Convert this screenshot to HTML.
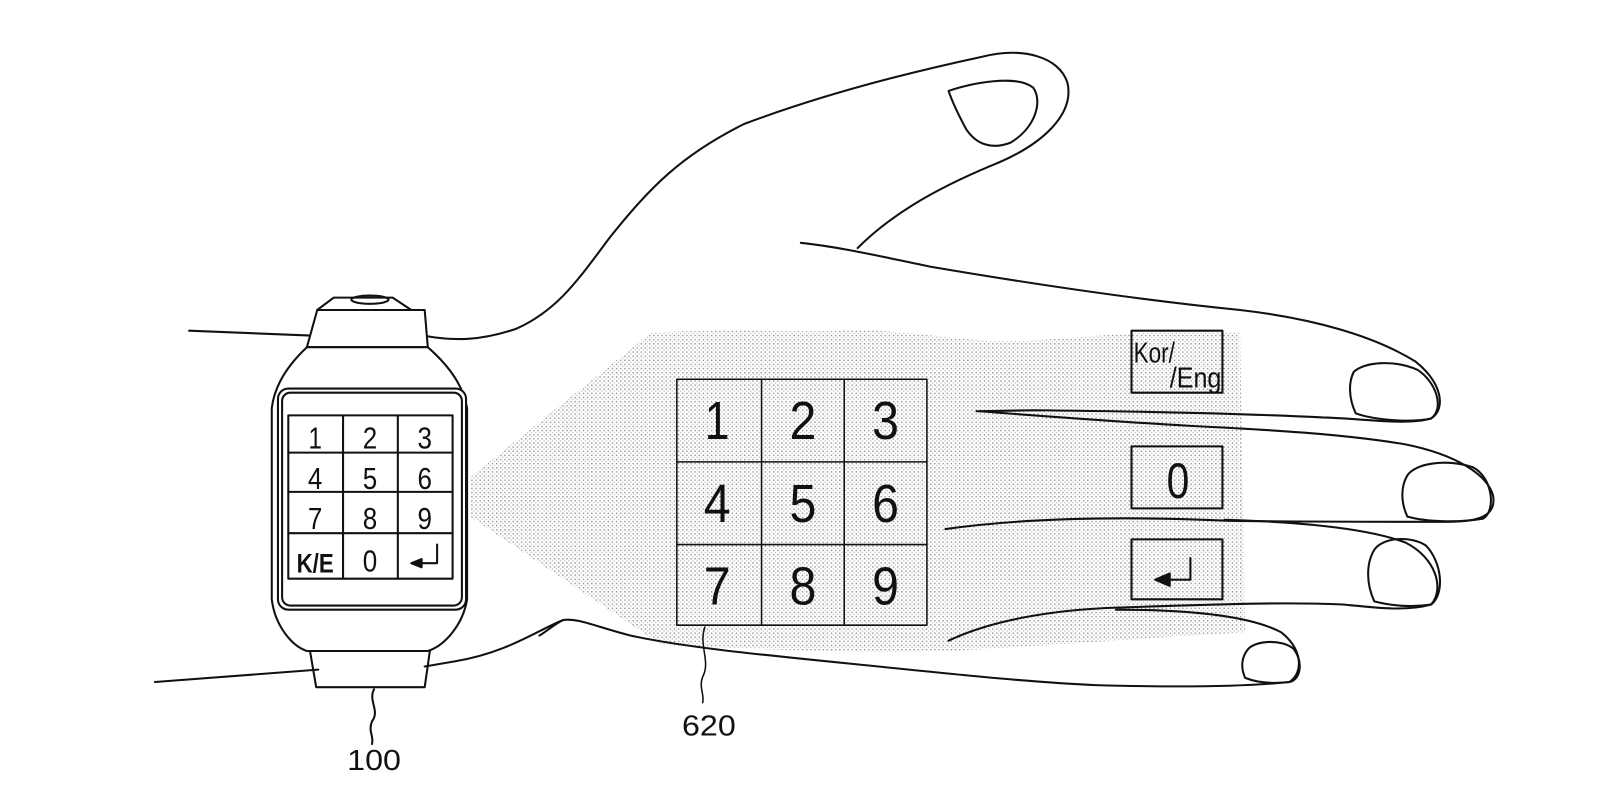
<!DOCTYPE html>
<html><head><meta charset="utf-8"><style>
html,body{margin:0;padding:0;background:#fff;}
svg{display:block;}
text{font-family:"Liberation Sans",sans-serif;fill:#111;}
</style></head><body>
<svg width="1612" height="806" viewBox="0 0 1560 780" preserveAspectRatio="none" xmlns="http://www.w3.org/2000/svg">
<defs>
<pattern id="dots" width="4" height="4" patternUnits="userSpaceOnUse">
<rect width="4" height="4" fill="#fff"/>
<rect x="0" y="0" width="1.4" height="1.4" fill="#999"/>
<rect x="2" y="2" width="1.2" height="1.2" fill="#bbb"/>
</pattern>
</defs>
<g fill="none" stroke="#111" stroke-width="2" stroke-linecap="round" stroke-linejoin="round">
<path d="M455,462 L630,322 C700,318 760,322 820,320 C880,318 930,332 990,330 C1060,326 1120,318 1200,322 L1205,612 C1100,618 1000,626 920,630 C820,632 720,628 640,624 L455,500 Z" fill="url(#dots)" stroke="none"/>
<path d="M183,320 L307,325"/>
<path d="M150,660 L308,648"/>
<path d="M411,325 C440,330 465,330 500,318 C540,300 560,270 590,230 C630,180 660,150 720,120 C800,90 880,70 950,55 C990,45 1025,55 1033,80 C1040,110 1010,140 960,160 C900,185 860,210 830,240"/>
<path d="M918,88 C940,80 985,72 1000,85 C1010,100 1000,125 978,138 C960,145 945,140 935,125 C928,112 922,100 918,88 Z"/>
<path d="M775,235 C820,240 860,250 900,258 C1000,275 1100,290 1200,300 C1270,308 1330,325 1370,350 C1395,370 1400,395 1385,405 C1360,412 1320,405 1280,404 C1200,400 1100,398 1000,397 L945,398"/>
<path d="M1310,360 C1320,350 1350,348 1372,358 C1390,370 1398,395 1385,405 C1360,410 1325,405 1312,400 C1305,385 1305,370 1310,360 Z"/>
<path d="M948,398 C1000,402 1080,408 1150,412 C1230,416 1300,420 1360,430 C1410,440 1440,460 1445,480 C1448,500 1430,505 1400,505 C1330,505 1260,505 1190,504 C1100,500 1000,500 915,512"/>
<path d="M1362,460 C1370,448 1400,444 1425,452 C1445,462 1448,495 1435,502 C1410,506 1380,505 1362,500 C1355,485 1356,470 1362,460 Z"/>
<path d="M1185,503 C1250,505 1320,510 1360,525 C1390,540 1398,570 1385,585 C1360,592 1330,588 1300,585 C1230,582 1150,586 1080,588 C1020,590 960,600 918,620"/>
<path d="M1330,532 C1338,520 1365,518 1380,528 C1396,545 1398,575 1385,585 C1365,588 1345,586 1330,582 C1322,565 1322,545 1330,532 Z"/>
<path d="M1080,590 C1150,590 1210,596 1240,612 C1260,628 1262,650 1248,660 C1200,665 1130,665 1060,663 C990,660 900,650 820,642 C730,633 660,626 610,615 C575,606 560,598 545,600 C520,610 490,632 440,640 L411,645"/>
<path d="M1208,628 C1215,620 1240,618 1252,628 C1262,642 1258,658 1248,660 C1230,662 1215,660 1205,656 C1200,645 1202,635 1208,628 Z"/>
<path d="M545,600 C535,605 528,612 522,615"/>
<path d="M336,288 L380,288 L398,300 L307,300 L323,288 Z" fill="#fff"/>
<ellipse cx="358" cy="290" rx="18" ry="4"/>
<path d="M307,300 L411,300 L414,336 L297,336 Z" fill="#fff"/>
<path d="M297,336 L414,336 C430,350 448,370 452,395 L452,580 C448,605 430,625 414,630 L297,630 C282,625 266,605 263,580 L263,395 C266,370 282,350 297,336 Z" fill="#fff"/>
<rect x="269" y="376" width="182" height="214" rx="10" fill="#fff"/>
<rect x="273" y="380" width="174" height="206" rx="8"/>
<path d="M300,630 L306,665 L411,665 L416,630"/>
<path d="M362,667 C356,678 368,688 360,698 C356,708 362,712 360,720"/>
<rect x="279" y="402" width="159" height="158" fill="#fff"/>
<line x1="279" y1="438" x2="438" y2="438"/><line x1="279" y1="476" x2="438" y2="476"/><line x1="279" y1="516" x2="438" y2="516"/>
<line x1="332" y1="402" x2="332" y2="560"/><line x1="385" y1="402" x2="385" y2="560"/>
<path d="M423,527 L423,545 L403,545"/>
<path d="M398,545 L408,541 L408,549 Z" fill="#111"/>
<rect x="655" y="367" width="242" height="238" stroke-width="1.5"/>
<line x1="737" y1="367" x2="737" y2="605" stroke-width="1.5"/><line x1="817" y1="367" x2="817" y2="605" stroke-width="1.5"/>
<line x1="655" y1="447" x2="897" y2="447" stroke-width="1.5"/><line x1="655" y1="527" x2="897" y2="527" stroke-width="1.5"/>
<path d="M682,607 C676,625 688,640 680,655 C676,665 682,672 680,680" stroke-width="1.5"/>
<rect x="1095" y="320" width="88" height="60" stroke-width="2"/>
<rect x="1095" y="432" width="88" height="60" stroke-width="2"/>
<rect x="1095" y="522" width="88" height="58" stroke-width="2"/>
<path d="M1152,540 L1152,561 L1128,561"/>
<path d="M1118,561 L1132,555 L1132,567 Z" fill="#111"/>
</g>
<g font-size="30" text-anchor="middle">
<text x="305" y="434" textLength="13" lengthAdjust="spacingAndGlyphs">1</text><text x="358" y="434" textLength="14" lengthAdjust="spacingAndGlyphs">2</text><text x="411" y="434" textLength="14" lengthAdjust="spacingAndGlyphs">3</text>
<text x="305" y="473" textLength="14" lengthAdjust="spacingAndGlyphs">4</text><text x="358" y="473" textLength="14" lengthAdjust="spacingAndGlyphs">5</text><text x="411" y="473" textLength="14" lengthAdjust="spacingAndGlyphs">6</text>
<text x="305" y="512" textLength="14" lengthAdjust="spacingAndGlyphs">7</text><text x="358" y="512" textLength="14" lengthAdjust="spacingAndGlyphs">8</text><text x="411" y="512" textLength="14" lengthAdjust="spacingAndGlyphs">9</text>
<text x="305" y="554" font-size="26" font-weight="bold" textLength="36" lengthAdjust="spacingAndGlyphs">K/E</text><text x="358" y="553" textLength="14" lengthAdjust="spacingAndGlyphs">0</text>
</g>
<g font-size="52" text-anchor="middle">
<text x="694" y="425" textLength="24" lengthAdjust="spacingAndGlyphs">1</text><text x="777" y="425" textLength="26" lengthAdjust="spacingAndGlyphs">2</text><text x="857" y="425" textLength="26" lengthAdjust="spacingAndGlyphs">3</text>
<text x="694" y="505" textLength="26" lengthAdjust="spacingAndGlyphs">4</text><text x="777" y="505" textLength="26" lengthAdjust="spacingAndGlyphs">5</text><text x="857" y="505" textLength="26" lengthAdjust="spacingAndGlyphs">6</text>
<text x="694" y="585" textLength="26" lengthAdjust="spacingAndGlyphs">7</text><text x="777" y="585" textLength="26" lengthAdjust="spacingAndGlyphs">8</text><text x="857" y="585" textLength="26" lengthAdjust="spacingAndGlyphs">9</text>
<text x="1140" y="482" font-size="48" textLength="22" lengthAdjust="spacingAndGlyphs">0</text>
</g>
<text x="1097" y="351" font-size="28" textLength="40" lengthAdjust="spacingAndGlyphs">Kor/</text>
<text x="1132" y="375" font-size="28" textLength="50" lengthAdjust="spacingAndGlyphs">/Eng</text>
<text x="686" y="712" font-size="28" text-anchor="middle" textLength="52" lengthAdjust="spacingAndGlyphs">620</text>
<text x="362" y="745" font-size="28" text-anchor="middle" textLength="52" lengthAdjust="spacingAndGlyphs">100</text>
</svg>
</body></html>
